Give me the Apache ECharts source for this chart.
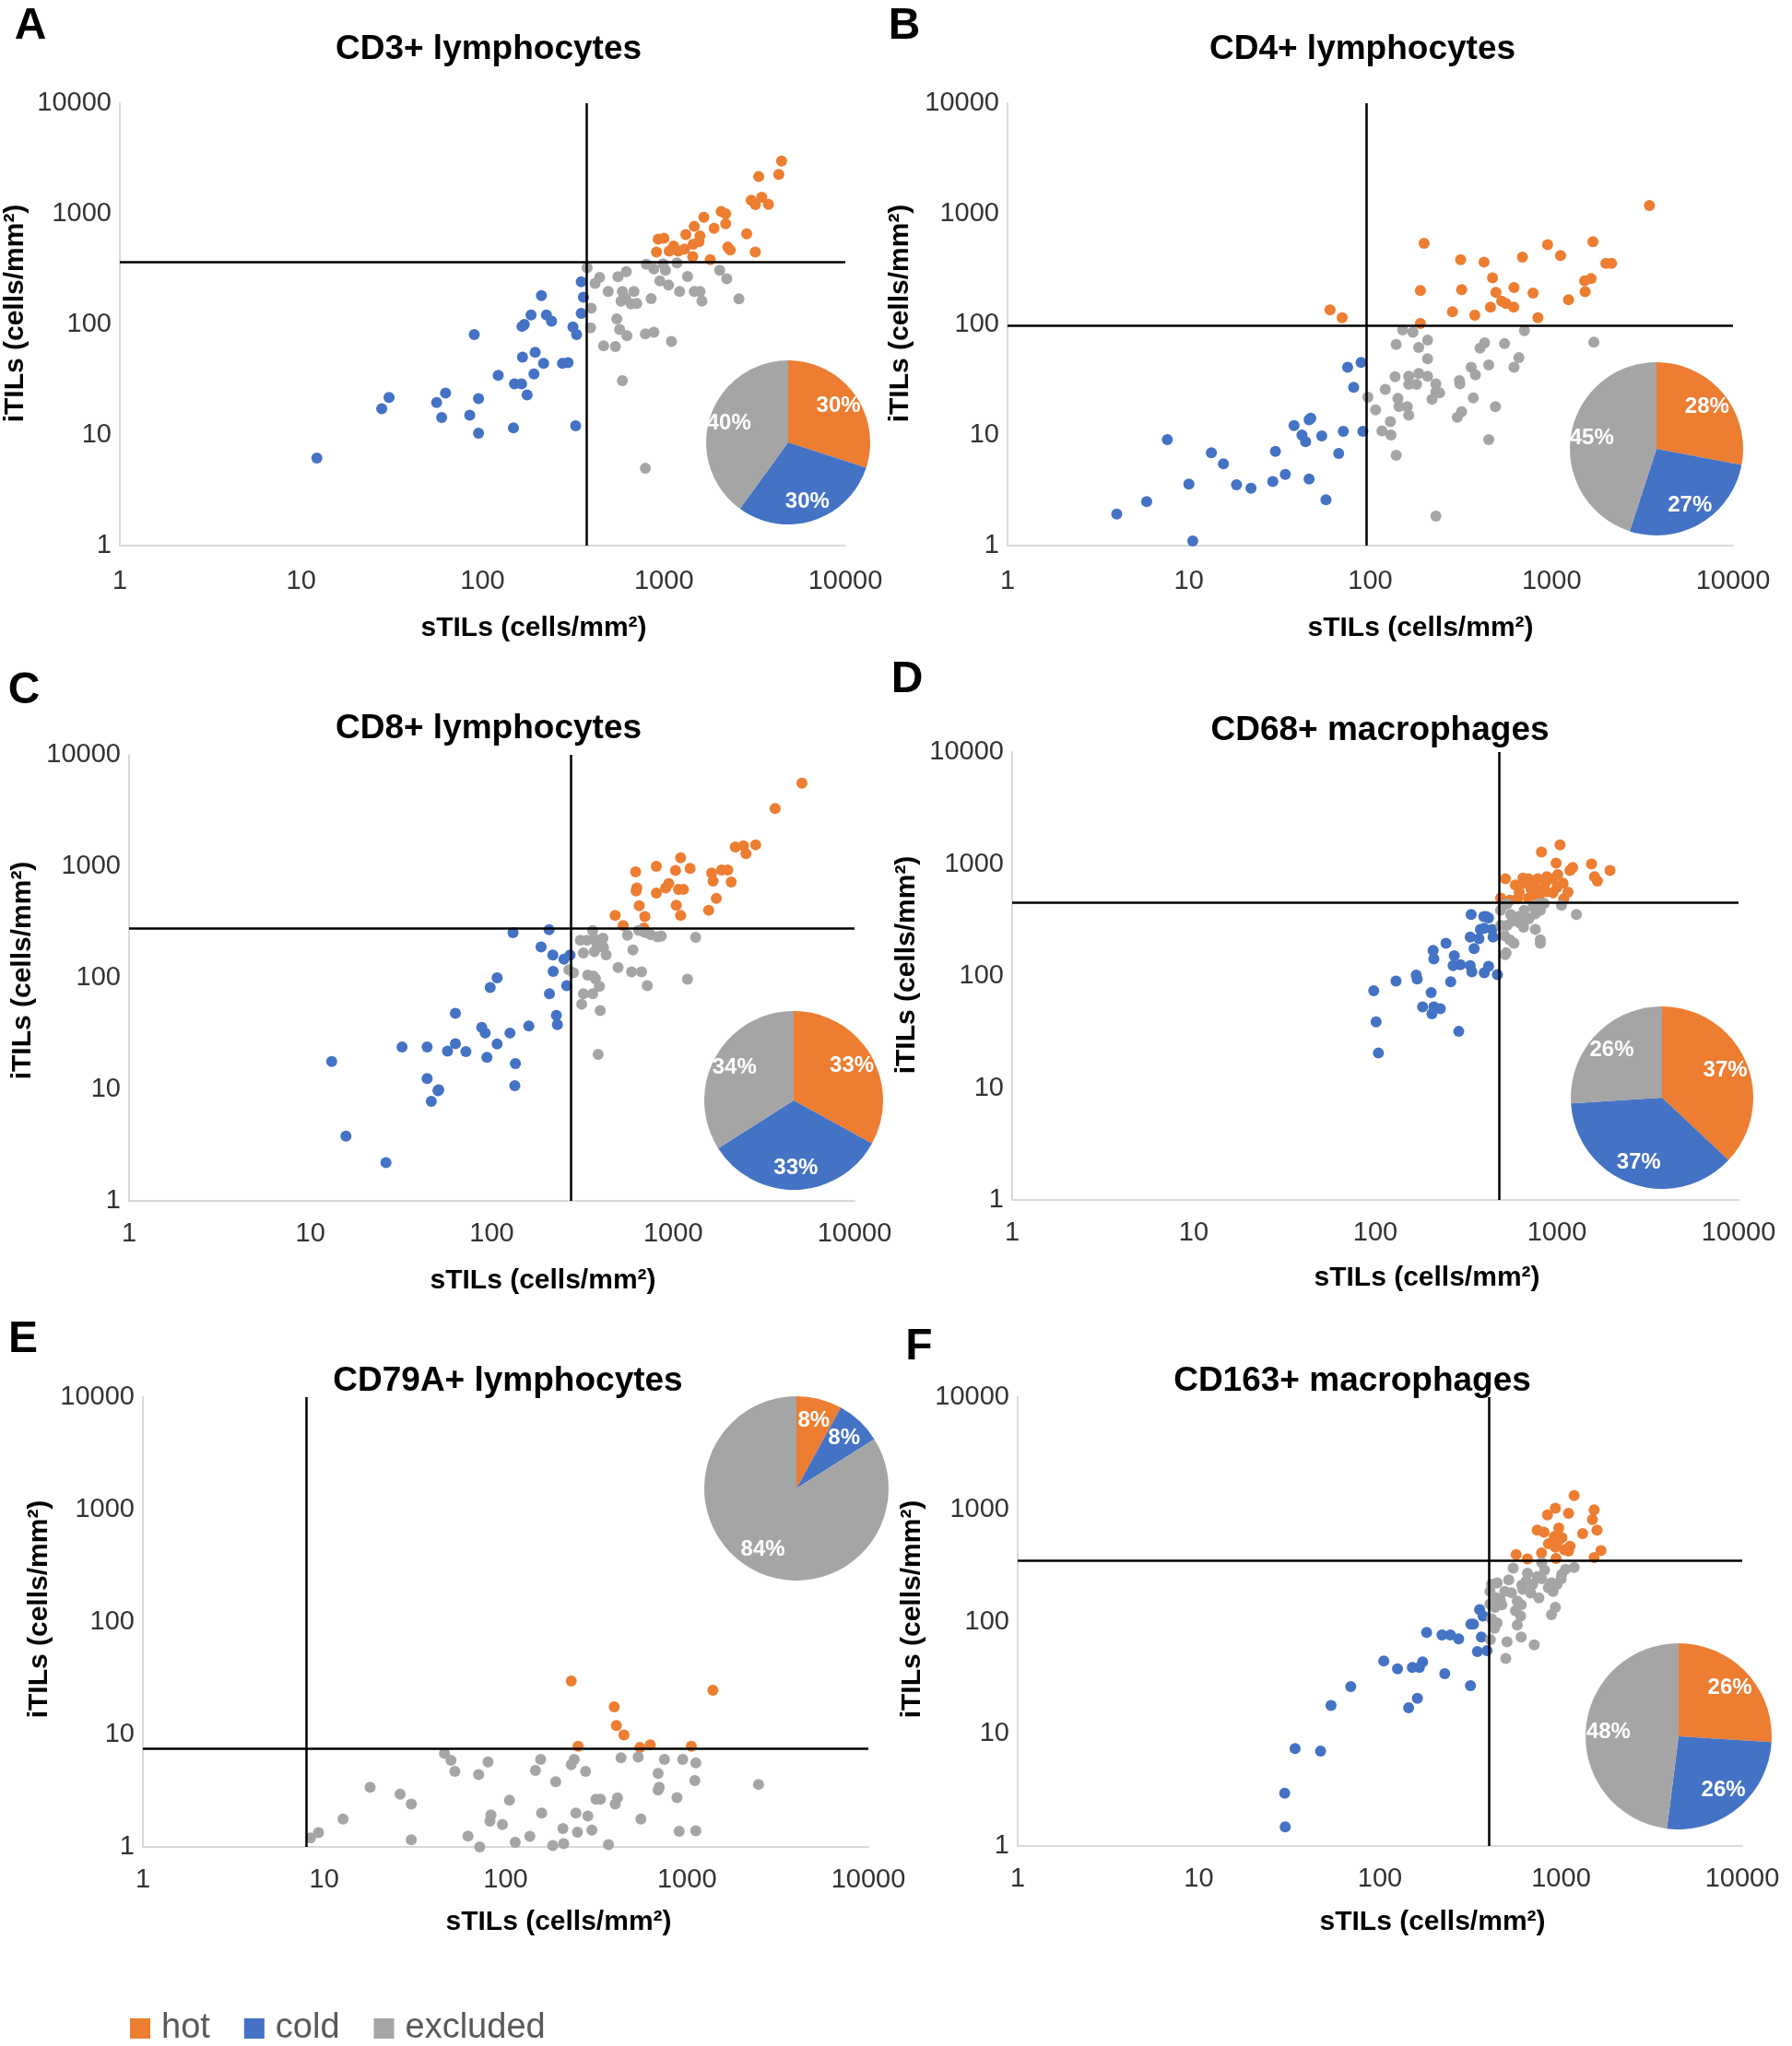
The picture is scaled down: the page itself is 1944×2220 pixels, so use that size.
<!DOCTYPE html>
<html><head><meta charset="utf-8">
<script src="https://cdn.jsdelivr.net/npm/echarts@6/dist/echarts.min.js"></script>
<style>html,body{margin:0;padding:0;background:#fff}#c{width:1944px;height:2220px}</style>
</head><body><div id="c"></div>
<script>
// ---------------- DATA ----------------
const panelLetters = ['A','B','C','D','E','F'];
const panelTitles = ['CD3+ lymphocytes','CD4+ lymphocytes','CD8+ lymphocytes','CD68+ macrophages','CD79A+ lymphocytes','CD163+ macrophages'];
const tickValues = [1,10,100,1000,10000];
const categories = ['hot','cold','excluded'];
const thresholdX = [375, 95, 272, 481, 8, 398];
const thresholdY = [370, 97, 277, 450, 7.5, 347];
const pieHot = [30,28,33,37,8,26];
const pieCold = [30,27,33,37,8,26];
const pieExcluded = [40,45,34,26,84,48];

const cd3Hot = [[4450,3000],[3330,2170],[4300,2270],[3030,1330],[3460,1410],[3770,1220],[3190,1210],[2860,660],[3190,450],[2070,1050],[2190,1000],[2190,815],[1890,740],[1660,930],[1470,770],[1320,650],[1450,530],[1300,480],[1440,410],[1580,630],[2320,470],[1800,385],[930,590],[1000,600],[1130,510],[910,450],[1070,460],[1200,460],[2250,500],[1560,560]];
const cd3Cold = [[12.2,6.2],[27.8,17.3],[30.5,21.9],[55.8,19.7],[62.5,23.9],[59.5,14.4],[85,15.1],[95,21.3],[95,10.4],[90,81],[122,34.7],[148,11.6],[150,29],[164,29],[176,23],[192,35.6],[195,56],[166,50.7],[217,44.5],[276,44.5],[296,45],[185,122],[170,100],[165,96],[211,182],[225,122],[240,107],[315,95],[330,81],[350,243],[360,176],[350,126],[326,12.1]];
const cd3Excl = [[377,326],[442,266],[558,270],[620,300],[417,235],[493,199],[590,199],[683,199],[613,174],[659,153],[708,155],[580,162],[397,140],[394,93],[550,112],[570,90],[625,79],[465,64],[540,63],[590,31],[790,82],[880,85],[1100,70],[850,171],[800,350],[880,317],[990,353],[1020,309],[1180,360],[950,248],[1060,227],[1350,271],[1220,199],[1470,199],[1580,199],[1620,162],[2030,309],[2220,259],[2590,170],[790,5.0]];

const cd4Hot = [[3460,1190],[198,540],[950,525],[1690,560],[1120,420],[690,406],[315,385],[424,366],[1990,356],[2140,356],[472,264],[1520,248],[1650,260],[189,202],[319,206],[493,195],[620,215],[790,192],[1530,198],[1240,167],[530,162],[560,155],[617,143],[460,143],[284,130],[377,121],[840,115],[189,102],[60,135],[70,115]];
const cd4Cold = [[89,45.3],[75,41],[81,27],[47,14.2],[46,13.7],[38,12.2],[71,10.8],[91,10.8],[54,9.8],[42,10],[44,8.7],[7.6,9.1],[13.3,6.9],[15.5,5.5],[30,7.1],[67,6.8],[34,4.4],[29,3.8],[46,4.0],[18.3,3.55],[22,3.3],[10,3.6],[57,2.6],[5.85,2.5],[4.0,1.93],[10.5,1.1]];
const cd4Excl = [[151,89],[172,85],[207,72],[708,88],[1710,69],[139,66],[185,62],[427,68],[403,61],[550,67],[207,49],[660,50],[450,43],[620,41],[360,41],[137,33.6],[163,34],[185,36],[207,34],[310,31],[163,28.7],[180,28.7],[230,29],[312,29],[380,35],[121,25.8],[230,24.5],[241,24],[97,22],[142,21.4],[219,21],[370,21.6],[107,16.9],[144,18.1],[160,18],[163,15.1],[490,18],[319,16.2],[302,14.5],[129,13.2],[116,10.9],[130,10],[139,6.56],[450,9.1],[230,1.85]];

const cd8Hot = [[5130,5570],[3650,3300],[2200,1490],[2440,1530],[2520,1300],[2850,1560],[1100,1190],[808,1000],[621,893],[1030,916],[1240,957],[1630,870],[1850,925],[2000,925],[1660,737],[2090,724],[945,700],[910,640],[1070,620],[1140,620],[630,640],[625,600],[808,577],[1730,515],[650,444],[1040,448],[1570,404],[479,363],[698,354],[1100,363],[530,295],[690,280]];
const cd8Cold = [[131,254],[207,270],[187,189],[217,160],[270,160],[250,147],[218,114],[259,85],[208,72],[227,46],[230,38],[160,37],[126,32],[107,100],[98,82],[88,36],[92,32],[107,25.5],[94,19.4],[135,17],[134,10.8],[63,48],[63,25.7],[72,21.8],[57,22],[44,24],[32,24],[44,12.5],[50.5,9.7],[51,9.9],[46.4,7.8],[13.1,17.8],[15.7,3.8],[26.1,2.2]];
const cd8Excl = [[360,265],[308,217],[335,217],[368,223],[410,227],[380,200],[413,187],[320,167],[368,172],[427,161],[560,241],[646,266],[698,255],[752,244],[820,233],[860,237],[1330,231],[600,178],[266,118],[282,111],[338,106],[363,104],[373,98],[392,84],[497,124],[590,113],[670,113],[720,85],[1200,97],[320,72],[360,72],[313,58],[396,51],[386,20.6]];

const cd68Hot = [[1040,1480],[822,1280],[990,1020],[1550,1000],[1960,877],[1220,933],[1180,877],[1610,770],[1670,705],[520,737],[650,750],[660,675],[697,737],[785,737],[880,770],[950,737],[1010,806],[1080,675],[750,646],[820,593],[880,567],[950,552],[760,533],[697,497],[551,476],[490,497],[606,488],[1090,488],[720,600],[1000,620],[870,690],[620,560],[590,650],[1150,560],[800,520]];
const cd68Cold = [[337,354],[396,339],[408,339],[420,330],[379,261],[398,267],[439,261],[445,223],[333,223],[372,215],[350,176],[245,196],[208,169],[210,142],[272,152],[268,124],[294,126],[333,124],[340,109],[398,107],[420,122],[470,103],[168,102],[170,94],[130,90],[260,89],[98,74],[203,71],[182,53],[210,53],[228,51],[205,46],[101,39],[288,32],[104,20.5]];
const cd68Excl = [[506,429],[532,440],[489,386],[556,354],[615,339],[660,386],[740,420],[760,360],[790,440],[850,445],[810,386],[1060,429],[1280,354],[490,284],[532,284],[570,310],[625,297],[655,273],[700,324],[760,261],[515,229],[550,210],[580,196],[810,210],[810,196],[525,161],[518,155]];

const cd79aHot = [[230,29.9],[1390,24.7],[397,17.6],[408,12.0],[449,9.9],[251,7.87],[550,7.66],[627,8.07],[1056,7.87]];
const cd79aCold = [];
const cd79aExcl = [[46,6.8],[50,5.9],[52.5,4.7],[80,5.7],[71,4.4],[156,6.0],[146,4.8],[230,5.4],[239,6.0],[276,4.7],[189,3.8],[433,6.2],[538,6.3],[751,6.0],[947,6.0],[1119,5.6],[693,4.5],[1105,3.9],[703,3.4],[693,3.2],[881,2.75],[2480,3.6],[17.9,3.4],[26.2,2.95],[30.2,2.4],[12.7,1.77],[9.3,1.34],[8.4,1.2],[30.2,1.16],[105,2.6],[83,1.93],[82,1.7],[96,1.58],[158,2.0],[62,1.25],[72,1.0],[113,1.1],[136,1.24],[182,1.03],[209,1.07],[207,1.46],[249,1.35],[299,1.41],[284,1.88],[244,2.0],[315,2.66],[333,2.66],[414,2.73],[402,2.4],[369,1.05],[557,1.77],[906,1.38],[1119,1.39]];

const cd163Hot = [[1181,1330],[930,1024],[841,891],[1099,923],[1522,989],[1489,811],[1578,653],[1316,609],[971,681],[917,573],[805,625],[738,653],[930,461],[1044,438],[1099,424],[1660,430],[565,395],[652,362],[937,365],[1522,372],[964,526],[852,494],[1010,560],[1120,470],[780,410]];
const cd163Cold = [[355,128],[371,112],[318,95],[328,95],[181,80],[220,76],[245,76],[272,70],[363,73],[345,54],[390,55],[105,44.5],[125,38],[151,39],[165,39],[172,43.8],[228,34.3],[316,26.9],[69,26.4],[161,20.7],[144,17.1],[53.7,17.9],[34,7.4],[47,7.0],[29.8,2.95],[30,1.48]];
const cd163Excl = [[782,335],[544,299],[413,215],[444,221],[514,235],[607,211],[652,270],[738,252],[782,241],[885,221],[951,215],[1007,263],[1059,292],[1181,304],[697,215],[615,194],[903,186],[754,163],[438,163],[489,186],[532,181],[405,143],[432,134],[471,141],[573,152],[602,141],[930,134],[885,115],[598,112],[413,106],[444,97],[429,87],[573,93],[407,69],[503,66],[602,73],[711,62],[495,47],[811,287],[405,186],[461,156],[560,125],[680,180],[1000,240],[850,200],[640,230]];

const hotSets = [cd3Hot, cd4Hot, cd8Hot, cd68Hot, cd79aHot, cd163Hot];
const coldSets = [cd3Cold, cd4Cold, cd8Cold, cd68Cold, cd79aCold, cd163Cold];
const exclSets = [cd3Excl, cd4Excl, cd8Excl, cd68Excl, cd79aExcl, cd163Excl];

// ---------------- LAYOUT / STYLE ----------------
const colors = {hot:'#ED7D31', cold:'#4472C4', excluded:'#A5A5A5'};
const layout = [
 {grid:{left:130,top:112,width:787,height:480}, letter:[33,29], title:[530,54], xname:[579,682], yname:[17,340], pie:[855,480,89]},
 {grid:{left:1093,top:112,width:787,height:480}, letter:[981,29], title:[1478,54], xname:[1541,682], yname:[977,340], pie:[1797,487,94]},
 {grid:{left:140,top:819,width:787,height:484}, letter:[26,750], title:[530,791], xname:[589,1390], yname:[25,1053], pie:[861,1194,97]},
 {grid:{left:1098,top:816,width:788,height:486}, letter:[984,738], title:[1497,793], xname:[1548,1387], yname:[984,1047], pie:[1803,1191,99]},
 {grid:{left:155,top:1516,width:787,height:488}, letter:[25,1454], title:[551,1499], xname:[606,2086], yname:[43,1746], pie:[864,1615,100]},
 {grid:{left:1104,top:1516,width:786,height:487}, letter:[997,1462], title:[1467,1499], xname:[1554,2086], yname:[990,1746], pie:[1821,1884,101]}
];
const FONT = '"Liberation Sans", Arial, sans-serif';
const fmt = v => String(Math.round(v));

const grids=[], xAxes=[], yAxes=[], series=[], graphics=[];
layout.forEach((L,i)=>{
  grids.push(Object.assign({containLabel:false}, L.grid));
  const axisCommon = {
    type:'log', logBase:10, min:tickValues[0], max:tickValues[tickValues.length-1], gridIndex:i,
    axisLine:{show:true, lineStyle:{color:'#D9D9D9', width:2}},
    axisTick:{show:false}, splitLine:{show:false}, minorTick:{show:false},
  };
  xAxes.push(Object.assign({}, axisCommon, {axisLabel:{fontSize:29, color:'#333', fontFamily:FONT, margin:(i<2?24:21), formatter:fmt}}));
  yAxes.push(Object.assign({}, axisCommon, {axisLabel:{fontSize:29, color:'#333', fontFamily:FONT, margin:9, formatter:fmt}}));
  const sets = [hotSets[i], coldSets[i], exclSets[i]];
  categories.forEach((c,k)=>{
    const s = {name:c, type:'scatter', xAxisIndex:i, yAxisIndex:i, data:sets[k], symbolSize:12, clip:false,
      itemStyle:{color:colors[c], opacity:1}, emphasis:{disabled:true}, silent:true, z:3};
    if(k===2){
      s.markLine = {silent:true, symbol:'none', animation:false, label:{show:false},
        lineStyle:{color:'#000', width:2.5, type:'solid'},
        data:[{xAxis:thresholdX[i]},{yAxis:thresholdY[i]}]};
    }
    series.push(s);
  });
  const pieData = [
    {name:'hot', value:pieHot[i], itemStyle:{color:colors.hot}},
    {name:'cold', value:pieCold[i], itemStyle:{color:colors.cold}},
    {name:'excluded', value:pieExcluded[i], itemStyle:{color:colors.excluded}}
  ];
  const [cx,cy,r] = L.pie;
  series.push({type:'pie', center:[cx,cy], radius:[0,r], startAngle:90, clockwise:true, data:pieData,
    label:{show:false}, labelLine:{show:false}, silent:true, emphasis:{disabled:true}, z:5, animation:false});
  series.push({type:'pie', center:[cx,cy], radius:[r*0.45,r], startAngle:90, clockwise:true,
    avoidLabelOverlap:false, labelLayout:{hideOverlap:false},
    data:pieData.map(d=>({name:d.name, value:d.value, itemStyle:{color:'rgba(0,0,0,0)'}})),
    label:{show:true, position:'inside', formatter:'{c}%', color:'#fff', fontWeight:'bold', fontSize:24, fontFamily:FONT},
    labelLine:{show:false}, silent:true, emphasis:{disabled:true}, z:6, animation:false});

  graphics.push({type:'text', x:L.letter[0], y:L.letter[1], style:{text:panelLetters[i], font:'bold 48px '+FONT, fill:'#000', textAlign:'center', textVerticalAlign:'middle'}});
  graphics.push({type:'text', x:L.title[0], y:L.title[1], style:{text:panelTitles[i], font:'bold 37px '+FONT, fill:'#000', textAlign:'center', textVerticalAlign:'middle'}});
  graphics.push({type:'text', x:L.xname[0], y:L.xname[1], style:{text:'sTILs (cells/mm²)', font:'bold 30px '+FONT, fill:'#000', textAlign:'center', textVerticalAlign:'middle'}});
  graphics.push({type:'text', x:L.yname[0], y:L.yname[1], rotation:Math.PI/2, style:{text:'iTILs (cells/mm²)', font:'bold 30px '+FONT, fill:'#000', textAlign:'center', textVerticalAlign:'middle'}});
});

const chart = echarts.init(document.getElementById('c'), null, {renderer:'canvas'});
chart.setOption({
  animation:false,
  backgroundColor:'#fff',
  grid:grids, xAxis:xAxes, yAxis:yAxes, series:series,
  graphic:graphics,
  legend:{data:categories, left:136, top:2177, icon:'rect', itemWidth:22, itemHeight:22, itemGap:37,
    selectedMode:false,
    textStyle:{fontSize:38, color:'#595959', fontFamily:FONT, padding:[0,0,0,7]}}
});
</script></body></html>
